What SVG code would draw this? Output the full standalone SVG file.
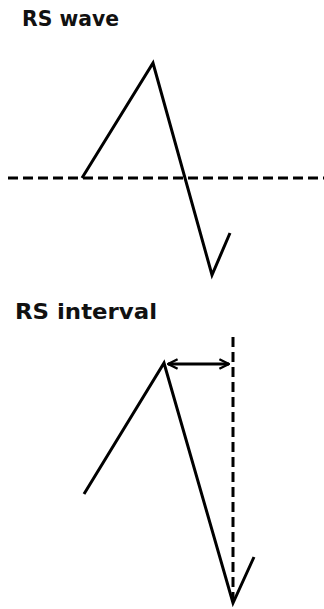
<svg xmlns="http://www.w3.org/2000/svg" width="324" height="609" viewBox="0 0 324 609">
<style>
.t{font-family:"DejaVu Sans",Verdana,sans-serif;font-weight:bold;font-size:21px;fill:#111}
.w{fill:none;stroke:#000;stroke-width:3;stroke-linejoin:miter}
.d{fill:none;stroke:#000;stroke-width:3;stroke-dasharray:10 5}
.a{fill:none;stroke:#000;stroke-width:3}
</style>
<defs>
<marker id="ah" viewBox="0 0 10 10" refX="9" refY="5" markerWidth="4" markerHeight="4" orient="auto-start-reverse" markerUnits="strokeWidth">
<path d="M1,1 L9,5 L1,9" fill="none" stroke="#000" stroke-width="2"/>
</marker>
</defs>
<g id="wave">
<text class="t" x="22" y="26" textLength="97" lengthAdjust="spacingAndGlyphs">RS wave</text>
<line class="d" x1="8" y1="178" x2="324" y2="178"/>
<polyline class="w" points="82,178 153,63 212,275 230,233"/>
</g>
<g id="interval">
<text class="t" x="15" y="319" textLength="142" lengthAdjust="spacingAndGlyphs">RS interval</text>
<line class="d" x1="233" y1="337" x2="233" y2="603"/>
<polyline class="w" points="84,494 164,363 233,603 254,557"/>
</g>
<g id="connectors">
<line class="a" x1="168" y1="364" x2="229" y2="364" marker-start="url(#ah)" marker-end="url(#ah)"/>
</g>
</svg>
